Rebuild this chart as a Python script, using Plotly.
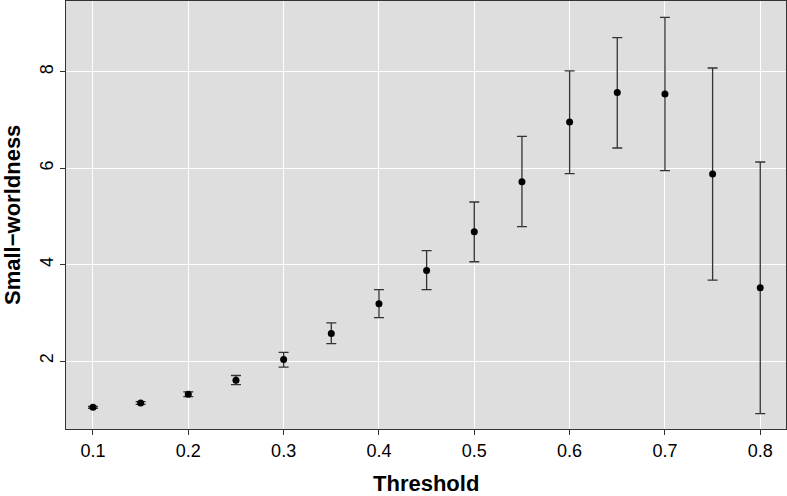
import plotly.graph_objects as go

thresholds = [0.1, 0.15, 0.2, 0.25, 0.3, 0.35, 0.4, 0.45, 0.5, 0.55, 0.6, 0.65, 0.7, 0.75, 0.8]
small_worldness = [1.04, 1.13, 1.31, 1.60, 2.03, 2.57, 3.19, 3.88, 4.68, 5.72, 6.96, 7.57, 7.54, 5.88, 3.52]
upper = [1.06, 1.16, 1.36, 1.70, 2.18, 2.79, 3.48, 4.29, 5.30, 6.66, 8.02, 8.71, 9.13, 8.08, 6.13]
lower = [1.02, 1.10, 1.26, 1.51, 1.875, 2.36, 2.90, 3.48, 4.06, 4.79, 5.89, 6.42, 5.95, 3.68, 0.91]

x_ticks = [0.1, 0.2, 0.3, 0.4, 0.5, 0.6, 0.7, 0.8]
y_ticks = [2, 4, 6, 8]

err_plus = [u - m for u, m in zip(upper, small_worldness)]
err_minus = [m - l for m, l in zip(small_worldness, lower)]

fig = go.Figure()
fig.add_trace(go.Scatter(
    x=thresholds, y=small_worldness, mode="markers",
    marker=dict(color="black", size=7),
    error_y=dict(type="data", symmetric=False, array=err_plus, arrayminus=err_minus,
                 color="#333333", thickness=1.3, width=5),
    showlegend=False,
))

font_family = "Liberation Sans, Arial, Helvetica, sans-serif"
fig.update_layout(
    width=787, height=496,
    margin=dict(l=66, r=1, t=1, b=67),
    paper_bgcolor="white", plot_bgcolor="#DEDEDE",
    font=dict(family=font_family, color="black", size=18),
    xaxis=dict(
        range=[0.0717, 0.827], tickvals=x_ticks, ticktext=[str(v) for v in x_ticks],
        showgrid=True, gridcolor="white", gridwidth=1.3, zeroline=False,
        ticks="outside", ticklen=5, tickcolor="#333333", tickwidth=1,
        showline=True, linecolor="#333333", linewidth=1.2, mirror=True,
        tickfont=dict(size=18, color="black"), automargin=False,
    ),
    yaxis=dict(
        range=[0.59, 9.47], tickvals=y_ticks, ticktext=[str(v) for v in y_ticks],
        showgrid=True, gridcolor="white", gridwidth=1.3, zeroline=False,
        ticks="outside", ticklen=5, tickcolor="#333333", tickwidth=1,
        showline=True, linecolor="#333333", linewidth=1.2, mirror=True,
        tickangle=-90, tickfont=dict(size=18, color="black"), automargin=False,
    ),
    annotations=[
        dict(text="<b>Threshold</b>", xref="paper", yref="paper", x=0.5, y=0,
             yshift=-54, xanchor="center", yanchor="middle", showarrow=False,
             font=dict(size=22, color="black")),
        dict(text="<b>Small\u2212worldness</b>", xref="paper", yref="paper", x=0, y=0.5,
             xshift=-54, xanchor="center", yanchor="middle", showarrow=False, textangle=-90,
             font=dict(size=22, color="black")),
    ],
)

fig.write_html("out.html", config={"displayModeBar": False},
               post_script="document.body.style.margin='0';document.body.style.padding='0';")
